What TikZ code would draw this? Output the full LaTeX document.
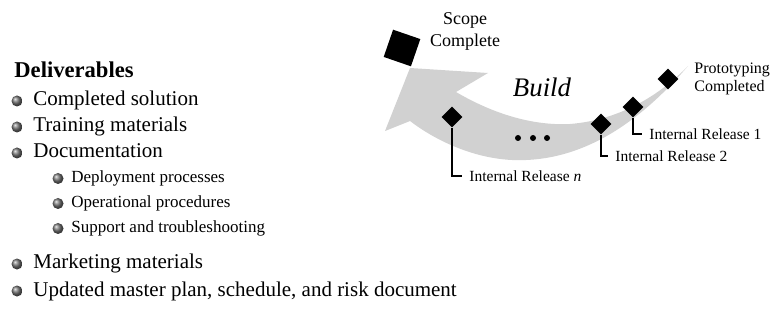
\documentclass[tikz,border=0pt]{standalone}
\usepackage{fontspec}
\setmainfont{Liberation Serif}
\usetikzlibrary{shapes.geometric,positioning}
\tikzset{
  deliverable heading/.style={
    anchor=base west,
    inner sep=0pt,
    font=\bfseries\fontsize{11.3}{13}\selectfont
  },
  deliverable item/.style={
    anchor=base west,
    inner sep=0pt,
    font=\fontsize{10.5}{13}\selectfont
  },
  deliverable subitem/.style={
    anchor=base west,
    inner sep=0pt,
    font=\fontsize{8.5}{10}\selectfont
  },
  deliverable bullet/.style={
    circle,
    inner sep=0pt,
    minimum size=5.5pt,
    shading=ball,
    ball color=black!55
  },
  build arrow/.style={fill=black!18},
  build milestone/.style={
    diamond,
    aspect=1,
    fill=black,
    inner sep=0pt,
    minimum size=10.5pt
  },
  scope milestone/.style={
    rectangle,
    fill=black,
    inner sep=0pt,
    minimum size=14.4pt,
    rotate=-19
  },
  release label/.style={
    anchor=west,
    inner xsep=3.5pt,
    inner ysep=0pt,
    font=\fontsize{7.75}{9}\selectfont
  },
  release leader/.style={draw=black, line width=0.6pt},
  build dot/.style={circle, fill=black, inner sep=0pt, minimum size=3pt}
}
\newcommand{\deliverableItem}[3]{%
  \node[deliverable bullet] (#1 bullet) at (17,{5-#2}) {};%
  \node[deliverable item] (#1) at (33,-#2) {#3};%
}
\newcommand{\deliverableSubItem}[3]{%
  \node[deliverable bullet] (#1 bullet) at (58,{4.5-#2}) {};%
  \node[deliverable subitem] (#1) at (71,-#2) {#3};%
}

\begin{document}
\begin{tikzpicture}[x=0.5pt,y=0.5pt]
  \useasboundingbox (0,0) rectangle (774,-325);

  % deliverables list
  \node[deliverable heading] (deliverables) at (14,-78) {Deliverables};
  \deliverableItem{solution}{106}{Completed solution}
  \deliverableItem{training}{132}{Training materials}
  \deliverableItem{documentation}{158}{Documentation}
  \deliverableSubItem{deployment}{183}{Deployment processes}
  \deliverableSubItem{operational}{208}{Operational procedures}
  \deliverableSubItem{support}{233}{Support and troubleshooting}
  \deliverableItem{marketing}{269}{Marketing materials}
  \deliverableItem{masterplan}{296}{Updated master plan, schedule, and risk document}

  % build arrow
  \fill[build arrow] (688,-66)
    .. controls (640,-122) and (582,-163) .. (512,-160)
    .. controls (470,-158) and (432,-138) .. (410,-121)
    -- (385,-131) -- (410,-68) -- (488,-73) -- (456,-92)
    .. controls (490,-112) and (530,-126) .. (570,-124)
    .. controls (620,-120) and (660,-95) .. (688,-66) -- cycle;

  \node[font=\itshape\fontsize{13.4}{16}\selectfont] (build) at (542,-87) {Build};
  \node[build dot] (dot1) at (518,-138) {};
  \node[build dot] (dot2) at (533,-138) {};
  \node[build dot] (dot3) at (547,-138) {};

  % milestones
  \node[scope milestone] (scope) at (402,-48) {};
  \node[align=center,font=\fontsize{9}{11}\selectfont] (scope label)
    at (465,-31) {Scope\\Complete};

  \node[build milestone] (prototype) at (668,-79) {};
  \node[anchor=west,align=left,inner sep=0pt,font=\fontsize{8}{9}\selectfont]
    (prototype label) at (694,-79) {Prototyping\\Completed};

  \node[build milestone] (release1) at (633,-107) {};
  \node[build milestone] (release2) at (601,-124) {};
  \node[build milestone] (releaseN) at (452,-117) {};

  \node[release label] (release1 label) at (642,-134) {Internal Release 1};
  \node[release label] (release2 label) at (608,-156) {Internal Release 2};
  \node[release label] (releaseN label) at (462,-176) {Internal Release \textit{n}};

  \draw[release leader] (release1.south) |- (release1 label.west);
  \draw[release leader] (release2.south) |- (release2 label.west);
  \draw[release leader] (releaseN.south) |- (releaseN label.west);
\end{tikzpicture}
\end{document}
